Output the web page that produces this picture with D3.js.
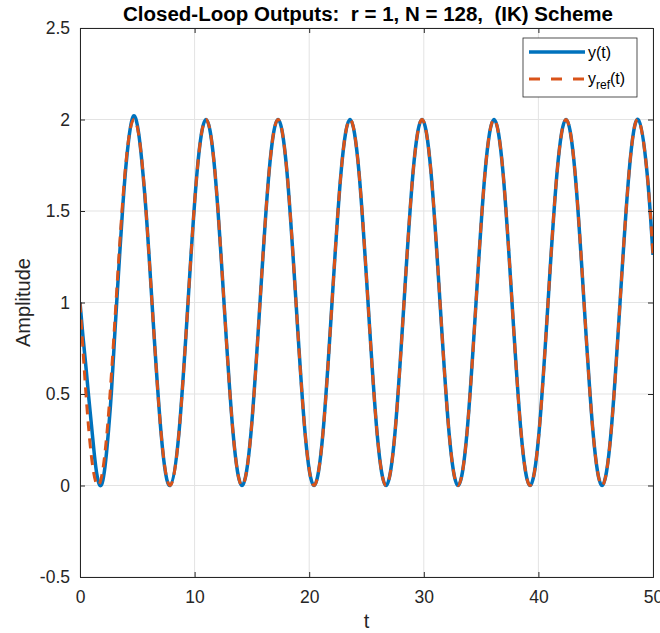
<!DOCTYPE html>
<html>
<head>
<meta charset="utf-8">
<script src="https://cdn.jsdelivr.net/npm/d3@7"></script>
<style>
  body { margin: 0; background: #fff; }
  svg { font-family: "Liberation Sans", Arial, sans-serif; }
</style>
</head>
<body>
<svg width="660" height="633"></svg>
<script>
// reference y_ref(t), sampled every eighth of a period
var refT = [0, 0.785, 1.571, 2.356, 3.142, 3.927, 4.712, 5.498, 6.283, 7.069, 7.854, 8.639,
  9.425, 10.21, 10.996, 11.781, 12.566, 13.352, 14.137, 14.923, 15.708, 16.493, 17.279, 18.064,
  18.85, 19.635, 20.42, 21.206, 21.991, 22.777, 23.562, 24.347, 25.133, 25.918, 26.704, 27.489,
  28.274, 29.06, 29.845, 30.631, 31.416, 32.201, 32.987, 33.772, 34.558, 35.343, 36.128, 36.914,
  37.699, 38.485, 39.27, 40.055, 40.841, 41.626, 42.412, 43.197, 43.982, 44.768, 45.553, 46.339,
  47.124, 47.909, 48.695, 49.48, 50];
var refY = [1, 0.29, 0, 0.29, 1, 1.71, 2, 1.71, 1, 0.29, 0, 0.29,
  1, 1.71, 2, 1.71, 1, 0.29, 0, 0.29, 1, 1.71, 2, 1.71,
  1, 0.29, 0, 0.29, 1, 1.71, 2, 1.71, 1, 0.29, 0, 0.29,
  1, 1.71, 2, 1.71, 1, 0.29, 0, 0.29, 1, 1.71, 2, 1.71,
  1, 0.29, 0, 0.29, 1, 1.71, 2, 1.71, 1, 0.29, 0, 0.29,
  1, 1.71, 2, 1.71, 1.26];

// closed-loop output y(t) during the transient; afterwards it sits on y_ref
var outT = [0, 0.25, 0.5, 0.75, 1, 1.25, 1.5, 1.75, 2, 2.25, 2.5, 2.75, 3, 3.25, 3.5,
  3.75, 4, 4.25, 4.5, 4.75, 5, 5.25, 5.5, 5.75, 6];
var outY = [1, 0.82, 0.66, 0.49, 0.33, 0.17, 0.05, 0, 0.03, 0.14, 0.31, 0.52, 0.79, 1.05, 1.3,
  1.54, 1.74, 1.89, 1.99, 2.02, 1.97, 1.86, 1.7, 1.51, 1.28];

var xTicks = [0, 10, 20, 30, 40, 50];
var yTicks = [-0.5, 0, 0.5, 1, 1.5, 2, 2.5];

var svg = d3.select("svg"),
    margin = {top: 28, right: 7, bottom: 56, left: 80},
    width = +svg.attr("width") - margin.left - margin.right,
    height = +svg.attr("height") - margin.top - margin.bottom;

var x = d3.scaleLinear().domain([0, 50]).range([0, width]);
var y = d3.scaleLinear().domain([-0.5, 2.5]).range([height, 0]);

var g = svg.append("g").attr("transform", "translate(" + margin.left + "," + margin.top + ")");

g.append("clipPath").attr("id", "clip")
  .append("rect").attr("width", width).attr("height", height);

// grid
g.append("g").selectAll("line").data(xTicks).enter().append("line")
    .attr("x1", function(d) { return x(d); }).attr("x2", function(d) { return x(d); })
    .attr("y1", 0).attr("y2", height)
    .attr("stroke", "#e3e3e3").attr("stroke-width", 1);
g.append("g").selectAll("line").data(yTicks).enter().append("line")
    .attr("y1", function(d) { return y(d); }).attr("y2", function(d) { return y(d); })
    .attr("x1", 0).attr("x2", width)
    .attr("stroke", "#e3e3e3").attr("stroke-width", 1);

var outData = outT.map(function(t, i) { return [t, outY[i]]; })
  .concat(refT.map(function(t, i) { return [t, refY[i]]; }).filter(function(d) { return d[0] > 6.1; }));
var refData = refT.map(function(t, i) { return [t, refY[i]]; });

var line = d3.line()
    .x(function(d) { return x(d[0]); })
    .y(function(d) { return y(d[1]); })
    .curve(d3.curveNatural);

var plot = g.append("g").attr("clip-path", "url(#clip)");
plot.append("path").datum(outData)
    .attr("d", line).attr("fill", "none")
    .attr("stroke", "#0072BD").attr("stroke-width", 3.5);
plot.append("path").datum(refData)
    .attr("d", line).attr("fill", "none")
    .attr("stroke", "#D95319").attr("stroke-width", 3)
    .attr("stroke-dasharray", "10,7");

// axes
var xAxis = g.append("g").attr("transform", "translate(0," + height + ")")
    .call(d3.axisBottom(x).tickValues(xTicks).tickSize(-5).tickPadding(14).tickFormat(d3.format("d")));
var xTop = g.append("g").call(d3.axisTop(x).tickValues(xTicks).tickSize(-5).tickFormat(""));
var yAxis = g.append("g")
    .call(d3.axisLeft(y).tickValues(yTicks).tickSize(-5).tickPadding(10).tickFormat(function(d) { return d; }));
var yRight = g.append("g").attr("transform", "translate(" + width + ",0)")
    .call(d3.axisRight(y).tickValues(yTicks).tickSize(-5).tickFormat(""));

[xAxis, xTop, yAxis, yRight].forEach(function(a) {
  a.select(".domain").attr("stroke", "#262626").attr("stroke-width", 1);
  a.selectAll(".tick line").attr("stroke", "#262626");
  a.selectAll("text").attr("fill", "#262626").style("font-size", "17.5px");
});

// labels
svg.append("text")
    .attr("x", 368).attr("y", 21)
    .attr("text-anchor", "middle")
    .style("font-size", "20px").style("font-weight", "bold").attr("fill", "#000")
    .attr("textLength", 490).attr("lengthAdjust", "spacingAndGlyphs")
    .style("white-space", "pre")
    .text("Closed-Loop Outputs:  r = 1, N = 128,  (IK) Scheme");

svg.append("text")
    .attr("x", margin.left + width / 2).attr("y", 628)
    .attr("text-anchor", "middle").style("font-size", "20px").attr("fill", "#262626")
    .text("t");

svg.append("text")
    .attr("transform", "translate(29.5," + (margin.top + height / 2) + ") rotate(-90)")
    .attr("text-anchor", "middle").style("font-size", "20px").attr("fill", "#262626")
    .text("Amplitude");

// legend
var leg = svg.append("g").attr("transform", "translate(523,38)");
leg.append("rect").attr("width", 114).attr("height", 59)
    .attr("fill", "#fff").attr("stroke", "#262626").attr("stroke-width", 0.8);
leg.append("line").attr("x1", 6).attr("x2", 62).attr("y1", 14).attr("y2", 14)
    .attr("stroke", "#0072BD").attr("stroke-width", 3.5);
leg.append("line").attr("x1", 6).attr("x2", 62).attr("y1", 41).attr("y2", 41)
    .attr("stroke", "#D95319").attr("stroke-width", 3).attr("stroke-dasharray", "11,11");
leg.append("text").attr("x", 65).attr("y", 20).style("font-size", "16px").attr("fill", "#000").text("y(t)");
var t2 = leg.append("text").attr("x", 65).attr("y", 46).style("font-size", "16px").attr("fill", "#000");
t2.append("tspan").text("y");
t2.append("tspan").attr("dy", 5).style("font-size", "12px").text("ref");
t2.append("tspan").attr("dy", -5).text("(t)");
</script>
</body>
</html>
